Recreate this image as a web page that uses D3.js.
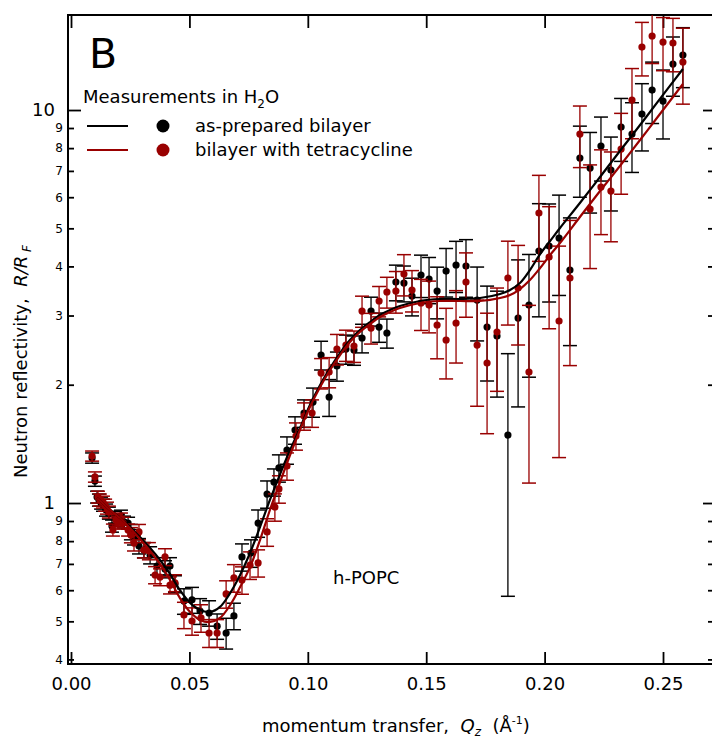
<!DOCTYPE html>
<html><head><meta charset="utf-8">
<script src="https://cdn.jsdelivr.net/npm/d3@7"></script>
<style>
body{margin:0;background:#fff}
svg{display:block}
text{font-family:"DejaVu Sans",sans-serif;fill:#000}
</style>
</head><body>
<svg id="c" width="712" height="738"></svg>
<script>
// ---------- data ----------
const qBlack=[0.0089,0.0101,0.0110,0.0118,0.0127,0.0135,0.0148,0.0160,0.0173,0.0186,0.0198,0.0211,0.0224,0.0241,0.0253,0.0266,0.0287,0.0308,0.0334,0.0363,0.0397,0.0418,0.0439,0.0477,0.0511,0.0545,0.0583,0.0617,0.0655,0.0688,0.0722,0.0760,0.0790,0.0828,0.0857,0.0878,0.0912,0.0946,0.0984,0.1022,0.1056,0.1090,0.1123,0.1161,0.1195,0.1229,0.1267,0.1301,0.1334,0.1372,0.1406,0.1440,0.1478,0.1512,0.1546,0.1584,0.1626,0.1668,0.1715,0.1757,0.1799,0.1845,0.1888,0.1934,0.1976,0.2019,0.2061,0.2107,0.2149,0.2192,0.2238,0.2280,0.2323,0.2369,0.2411,0.2454,0.2500,0.2542,0.2584];
const rBlack=[1.302,1.137,1.036,1.018,1.000,0.988,0.960,0.943,0.874,0.921,0.905,0.927,0.895,0.889,0.844,0.819,0.777,0.759,0.737,0.691,0.679,0.691,0.622,0.563,0.567,0.531,0.525,0.486,0.467,0.516,0.729,0.746,0.889,1.054,1.131,1.228,1.364,1.534,1.694,1.807,2.380,1.861,2.232,2.465,2.451,2.630,3.080,2.804,2.708,3.650,3.629,3.363,3.803,3.715,3.462,3.893,4.033,4.009,3.285,2.804,2.660,1.489,2.956,3.190,4.377,4.507,4.724,3.915,7.549,7.118,8.096,7.035,9.051,8.687,9.768,11.24,10.54,13.09,13.80];
const eBlack=[0.039,0.034,0.036,0.036,0.035,0.035,0.034,0.033,0.031,0.032,0.032,0.032,0.031,0.031,0.038,0.037,0.035,0.034,0.037,0.035,0.034,0.035,0.031,0.042,0.043,0.040,0.039,0.036,0.042,0.040,0.058,0.060,0.071,0.084,0.090,0.098,0.109,0.123,0.136,0.154,0.20,0.20,0.19,0.21,0.21,0.22,0.26,0.24,0.23,0.38,0.38,0.37,0.47,0.50,0.52,0.55,0.60,0.67,0.70,0.76,0.80,0.91,1.20,1.10,1.40,1.26,1.35,1.40,1.55,1.65,1.50,1.50,1.65,1.75,1.90,2.00,2.10,2.25,2.40];

const qRed=[0.0089,0.0101,0.0114,0.0122,0.0135,0.0144,0.0152,0.0160,0.0177,0.0190,0.0198,0.0211,0.0220,0.0241,0.0253,0.0266,0.0287,0.0308,0.0329,0.0355,0.0376,0.0397,0.0418,0.0439,0.0477,0.0511,0.0549,0.0583,0.0617,0.0655,0.0688,0.0722,0.0756,0.0790,0.0828,0.0861,0.0878,0.0912,0.0950,0.0984,0.1018,0.1056,0.1090,0.1123,0.1161,0.1195,0.1229,0.1267,0.1301,0.1334,0.1372,0.1406,0.1440,0.1478,0.1512,0.1546,0.1584,0.1626,0.1668,0.1715,0.1757,0.1799,0.1845,0.1888,0.1934,0.1976,0.2019,0.2061,0.2107,0.2149,0.2192,0.2238,0.2280,0.2323,0.2369,0.2411,0.2454,0.2500,0.2542,0.2584];
const rRed=[1.317,1.165,1.036,1.018,1.006,0.988,0.971,0.949,0.854,0.905,0.895,0.911,0.889,0.854,0.829,0.791,0.844,0.759,0.755,0.656,0.648,0.729,0.618,0.626,0.519,0.501,0.510,0.467,0.467,0.587,0.645,0.637,0.695,0.704,0.844,0.977,1.086,1.242,1.481,1.665,1.694,2.141,2.154,2.465,2.523,2.509,3.080,2.788,3.266,3.443,3.462,3.825,3.483,3.228,3.190,2.838,2.599,2.871,3.650,2.523,2.271,2.724,3.737,3.524,2.154,5.470,4.226,2.905,3.737,8.687,5.600,6.369,6.221,7.956,10.60,14.46,15.43,14.89,14.81,13.25];
const eRed=[0.039,0.035,0.036,0.036,0.035,0.035,0.034,0.033,0.030,0.032,0.031,0.032,0.031,0.030,0.037,0.036,0.038,0.034,0.038,0.033,0.032,0.036,0.031,0.031,0.040,0.040,0.041,0.038,0.038,0.047,0.052,0.051,0.056,0.056,0.068,0.078,0.087,0.099,0.118,0.133,0.136,0.19,0.19,0.22,0.23,0.23,0.28,0.25,0.29,0.31,0.42,0.46,0.42,0.48,0.48,0.51,0.53,0.60,0.68,0.76,0.77,0.80,0.90,1.00,1.03,1.35,1.45,1.60,1.50,1.55,1.65,1.55,1.60,1.85,2.15,2.25,2.30,2.30,2.30,2.90];

const qFit=[0.0110,0.0165,0.0207,0.0249,0.0291,0.0334,0.0376,0.0418,0.0460,0.0503,0.0545,0.0587,0.0629,0.0672,0.0714,0.0756,0.0798,0.0840,0.0883,0.0925,0.0967,0.1009,0.1052,0.1094,0.1136,0.1178,0.1220,0.1263,0.1305,0.1347,0.1389,0.1474,0.1558,0.1643,0.1727,0.1812,0.1854,0.1896,0.1938,0.1981,0.2023,0.2065,0.2149,0.2234,0.2318,0.2403,0.2487,0.2584];
const fitBlack=[1.030,0.960,0.916,0.869,0.819,0.768,0.716,0.660,0.600,0.557,0.534,0.528,0.544,0.590,0.656,0.746,0.869,1.018,1.185,1.364,1.551,1.776,1.997,2.206,2.408,2.599,2.755,2.888,3.009,3.098,3.172,3.266,3.305,3.305,3.324,3.403,3.483,3.629,3.915,4.301,4.642,5.009,5.799,6.753,7.866,9.160,10.67,12.72];
const fitRed=[1.030,0.960,0.916,0.864,0.810,0.755,0.700,0.637,0.573,0.528,0.504,0.498,0.510,0.550,0.611,0.687,0.805,0.960,1.131,1.325,1.534,1.755,1.973,2.180,2.380,2.569,2.724,2.854,2.973,3.062,3.135,3.228,3.266,3.266,3.266,3.324,3.383,3.504,3.693,3.963,4.276,4.587,5.342,6.221,7.202,8.389,9.768,11.65];

const xTicks=[0,0.05,0.10,0.15,0.20,0.25];
const yTicks=[0.4,0.5,0.6,0.7,0.8,0.9,1,2,3,4,5,6,7,8,9,10];
const yMajor=[1,10];

const BLACK="#000000", RED="#990000";

// ---------- layout ----------
const L=68, R=713, T=15, B=664;
const svg=d3.select("#c");
const x=d3.scaleLinear().domain([-0.00127,0.27111]).range([L,R]);
const y=d3.scaleLog().domain([0.3894,17.45]).range([B,T]);

svg.append("defs").append("clipPath").attr("id","clip")
  .append("rect").attr("x",L).attr("y",T).attr("width",R-L).attr("height",B-T);

// axes
const gb=svg.append("g").attr("transform",`translate(0,${B})`)
  .call(d3.axisBottom(x).tickValues(xTicks).tickSize(-12).tickPadding(13).tickFormat(d3.format(".2f")));
const gt=svg.append("g").attr("transform",`translate(0,${T})`)
  .call(d3.axisTop(x).tickValues(xTicks).tickSize(-13).tickFormat(""));
const gl=svg.append("g").attr("transform",`translate(${L},0)`)
  .call(d3.axisLeft(y).tickValues(yTicks).tickSize(-6).tickPadding(5).tickFormat(d=>String(d<1?Math.round(d*10):d)));
const gr=svg.append("g").attr("transform",`translate(${R},0)`)
  .call(d3.axisRight(y).tickValues(yTicks).tickSize(-5).tickFormat(""));
[gb,gt,gl,gr].forEach(g=>{
  g.select(".domain").remove();
  g.selectAll(".tick line").attr("stroke","#000").attr("stroke-width",1.8);
  g.selectAll("text").attr("font-family","DejaVu Sans").attr("fill","#000");
});
gb.selectAll("text").attr("font-size",18);
gl.selectAll(".tick").each(function(d){
  const major=yMajor.includes(d);
  const t=d3.select(this);
  t.select("line").attr("x2",major?13:6);
  t.select("text").attr("font-size",major?18:12).attr("x",major?-13:-5);
});
gr.selectAll(".tick").each(function(d){
  const major=yMajor.includes(d);
  d3.select(this).select("line").attr("x2",major?-10:-5);
});

svg.append("rect").attr("x",L).attr("y",T).attr("width",R-L).attr("height",B-T)
  .attr("fill","none").attr("stroke","#000").attr("stroke-width",2);

// data
const plot=svg.append("g").attr("clip-path","url(#clip)");
function series(qs,rs,es,color){
  const d=qs.map((q,i)=>({q,r:rs[i],e:es[i]}));
  const g=plot.append("g");
  const lo=v=>y(Math.max(v,0.05));
  g.selectAll("line.v").data(d).join("line").attr("class","v")
    .attr("x1",p=>x(p.q)).attr("x2",p=>x(p.q))
    .attr("y1",p=>lo(p.r-p.e)).attr("y2",p=>y(p.r+p.e))
    .attr("stroke",color).attr("stroke-width",1.3);
  ["lo","hi"].forEach(k=>{
    g.selectAll("line."+k).data(d).join("line").attr("class",k)
      .attr("x1",p=>x(p.q)-7).attr("x2",p=>x(p.q)+7)
      .attr("y1",p=>k==="lo"?lo(p.r-p.e):y(p.r+p.e))
      .attr("y2",p=>k==="lo"?lo(p.r-p.e):y(p.r+p.e))
      .attr("stroke",color).attr("stroke-width",1.5);
  });
  g.selectAll("circle").data(d).join("circle")
    .attr("cx",p=>x(p.q)).attr("cy",p=>y(p.r)).attr("r",3.6).attr("fill",color);
}
series(qBlack,rBlack,eBlack,BLACK);
series(qRed,rRed,eRed,RED);

const line=d3.line().x(d=>x(d[0])).y(d=>y(d[1])).curve(d3.curveCatmullRom);
plot.append("path").attr("d",line(qFit.map((q,i)=>[q,fitBlack[i]])))
  .attr("fill","none").attr("stroke",BLACK).attr("stroke-width",2.2);
plot.append("path").attr("d",line(qFit.map((q,i)=>[q,fitRed[i]])))
  .attr("fill","none").attr("stroke",RED).attr("stroke-width",2.2);

// panel label
svg.append("text").attr("x",89).attr("y",68).attr("font-size",41).text("B");

// legend
const lt=svg.append("text").attr("x",83).attr("y",103).attr("font-size",18);
lt.append("tspan").text("Measurements in H");
lt.append("tspan").attr("font-size",12).attr("dy",5).text("2");
lt.append("tspan").attr("dy",-5).text("O");
[[BLACK,"as-prepared bilayer",126],[RED,"bilayer with tetracycline",150]].forEach(([c,t,yy])=>{
  svg.append("line").attr("x1",87).attr("x2",128).attr("y1",yy).attr("y2",yy).attr("stroke",c).attr("stroke-width",2);
  svg.append("circle").attr("cx",163).attr("cy",yy).attr("r",6.5).attr("fill",c);
  svg.append("text").attr("x",195).attr("y",yy+6).attr("font-size",18).text(t);
});

svg.append("text").attr("x",333).attr("y",584).attr("font-size",18).text("h-POPC");

// x title
const xt=svg.append("text").attr("x",262).attr("y",732).attr("font-size",18).attr("xml:space","preserve");
xt.append("tspan").text("momentum transfer,  ");
xt.append("tspan").attr("font-style","italic").text("Q");
xt.append("tspan").attr("font-style","italic").attr("font-size",12).attr("dy",4).text("z");
xt.append("tspan").attr("dy",-4).text("  (Å");
xt.append("tspan").attr("font-size",11).attr("dy",-8).text("-1");
xt.append("tspan").attr("dy",8).text(")");

// y title
const yt=svg.append("text").attr("transform","translate(27,478) rotate(-90)").attr("font-size",18).attr("xml:space","preserve");
yt.append("tspan").text("Neutron reflectivity,  ");
yt.append("tspan").attr("font-style","italic").text("R/R");
yt.append("tspan").attr("font-style","italic").attr("font-size",12).attr("dy",4).text(" F");
</script>
</body></html>
